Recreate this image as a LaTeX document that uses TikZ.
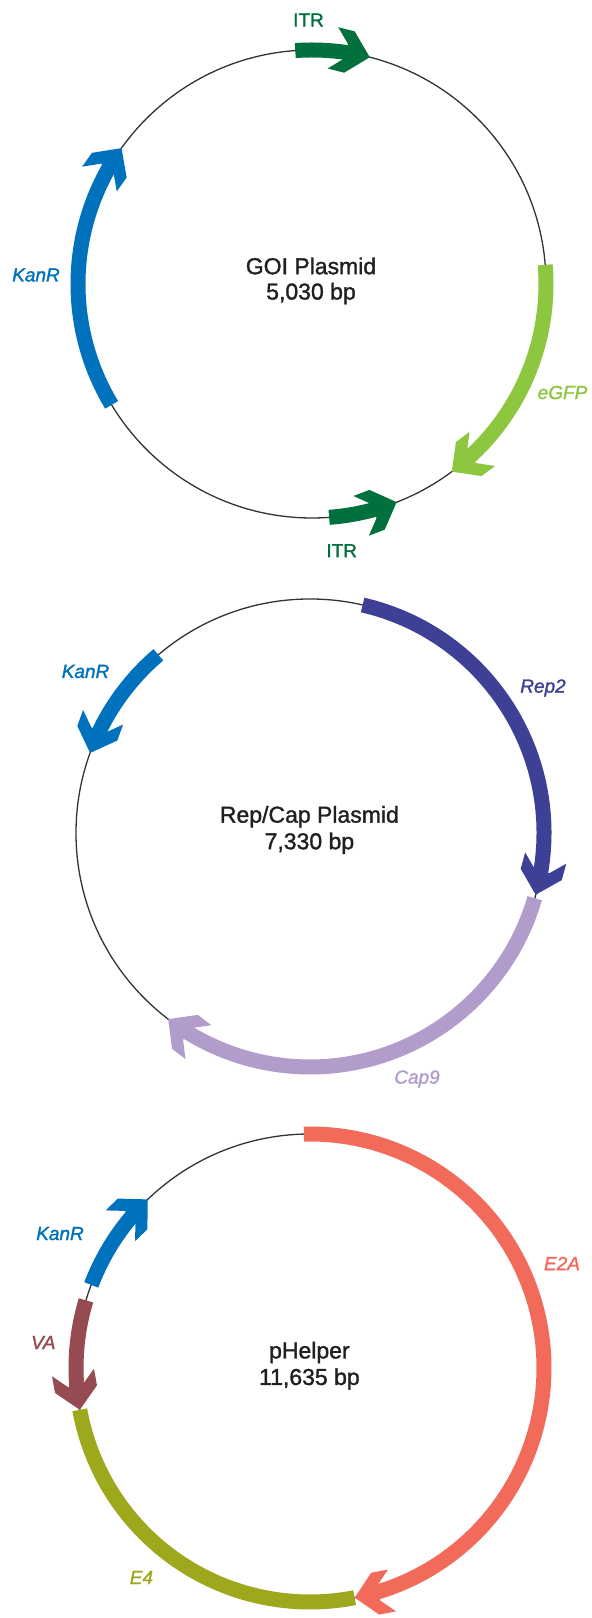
\documentclass[tikz,border=0pt]{standalone}
\usepackage{fontspec}
\setmainfont{Liberation Sans}
\newfontfamily\medfont[FakeBold=1.4]{Liberation Sans}
\usetikzlibrary{calc}
\definecolor{itrcol}{HTML}{00703C}
\definecolor{gfpcol}{HTML}{8DC63F}
\definecolor{kancol}{HTML}{0071BC}
\definecolor{repcol}{HTML}{3E4095}
\definecolor{capcol}{HTML}{B19CCB}
\definecolor{e2acol}{HTML}{F26A5A}
\definecolor{e4col}{HTML}{9EA81C}
\definecolor{vacol}{HTML}{954B51}
\definecolor{linecol}{HTML}{333333}
\definecolor{txtcol}{HTML}{231F20}
\newcommand{\Rad}{234}
\newcommand{\gene}[5]{%
  \pgfmathsetmacro{\shaftend}{#3-#5*5.6}%
  \pgfmathsetmacro{\headrot}{#3+#5*90}%
  \draw[band,#4] (#1) ++(#2:\Rad) arc[start angle=#2, end angle=\shaftend, radius=\Rad];
  \begin{scope}[shift={($(#1)+(#3:\Rad)$)}, rotate=\headrot]
    \fill[#4] (0,0) -- (-21,21.3) -- (-38,21.3) -- (-24.4,7.5) -- (-24.4,-7.5) -- (-38,-21.3) -- (-21,-21.3) -- cycle;
  \end{scope}}
\tikzset{
  band/.style={line width=15pt, line cap=butt},
  backbone/.style={draw=linecol, line width=1.3pt},
  lab/.style={font=\medfont\fontsize{19}{22}\selectfont\itshape, inner sep=0pt},
  labup/.style={font=\medfont\fontsize{19}{22}\selectfont, inner sep=0pt},
  ctr/.style={font=\medfont\fontsize{23}{27}\selectfont, text=txtcol, inner sep=0pt}
}
\begin{document}
\begin{tikzpicture}[x=1pt,y=1pt]
\useasboundingbox[fill=white] (0,0) rectangle (592,1618);
\coordinate (c1) at (312,1334);
\coordinate (c2) at (310,785);
\coordinate (c3) at (310,250);
% GOI plasmid
\draw[backbone] (c1) circle[radius=\Rad];
\gene{c1}{94.1}{75.7}{itrcol}{-1}
\gene{c1}{4.7}{-53.3}{gfpcol}{-1}
\gene{c1}{-85.8}{-68.8}{itrcol}{1}
\gene{c1}{211.1}{144.5}{kancol}{-1}
\node[labup, text=itrcol] (itr1) at (308.5,1598) {ITR};
\node[labup, text=itrcol] (itr2) at (341.7,1067.3) {ITR};
\node[lab, text=kancol] (kan1) at (36,1343) {KanR};
\node[lab, text=gfpcol] (gfp) at (562.5,1225.5) {eGFP};
\node[ctr] (t1a) at (311,1352) {GOI Plasmid};
\node[ctr] (t1b) at (311,1324.4) {5,030 bp};
% Rep/Cap plasmid
\draw[backbone] (c2) circle[radius=\Rad];
\gene{c2}{77}{-15.3}{repcol}{-1}
\gene{c2}{-16.2}{-127.3}{capcol}{-1}
\gene{c2}{130.4}{160}{kancol}{1}
\node[lab, text=kancol] (kan2) at (85.5,946.5) {KanR};
\node[lab, text=repcol] (rep) at (543,930) {Rep2};
\node[lab, text=capcol] (cap) at (417,539) {Cap9};
\node[ctr] (t2a) at (309.4,801.3) {Rep/Cap Plasmid};
\node[ctr] (t2b) at (309.4,774.7) {7,330 bp};
% pHelper
\draw[backbone] (c3) circle[radius=\Rad];
\draw[band,e4col] (c3) ++(190.3:\Rad) arc[start angle=190.3, end angle=281, radius=\Rad];
\gene{c3}{91.5}{-79}{e2acol}{-1}
\gene{c3}{159.2}{133.9}{kancol}{-1}
\gene{c3}{163.2}{190.3}{vacol}{1}
\node[lab, text=kancol] (kan3) at (60,384.4) {KanR};
\node[lab, text=vacol] (va) at (43.3,275.5) {VA};
\node[lab, text=e2acol] (e2a) at (562,354.5) {E2A};
\node[lab, text=e4col] (e4) at (141.4,40.5) {E4};
\node[ctr] (t3a) at (309.4,265.5) {pHelper};
\node[ctr] (t3b) at (309.4,239) {11,635 bp};
\end{tikzpicture}
\end{document}
